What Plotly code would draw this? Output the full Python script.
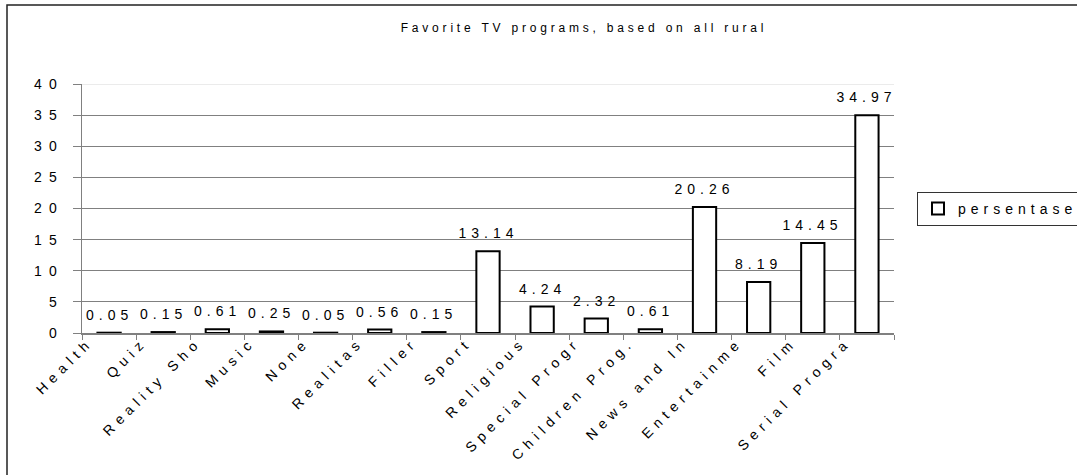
import plotly.graph_objects as go

categories = ["Health", "Quiz", "Reality Sho", "Music", "None", "Realitas", "Filler",
              "Sport", "Religious", "Special Progr", "Children Prog.", "News and In",
              "Entertainme", "Film", "Serial Progra"]
values = [0.05, 0.15, 0.61, 0.25, 0.05, 0.56, 0.15, 13.14, 4.24, 2.32, 0.61,
          20.26, 8.19, 14.45, 34.97]
y_ticks = [0, 5, 10, 15, 20, 25, 30, 35, 40]
series_name = "persentase"
title_text = "Favorite TV programs, based on all rural"

W, H = 1077, 475
L, R, T, B = 82, 894, 84, 333
pw, ph = R - L, B - T

font_family = "Liberation Sans, Arial, sans-serif"
fsize = 14

fig = go.Figure()
fig.add_trace(go.Bar(
    x=categories, y=values, name=series_name,
    marker=dict(color="white", line=dict(color="black", width=2)),
    showlegend=True,
))

annotations = [
    dict(x=c, y=v, xref="x", yref="y", text=f"{v:.2f}", showarrow=False,
         yanchor="bottom", xanchor="center", yshift=8,
         font=dict(family=font_family, size=fsize, color="black"))
    for c, v in zip(categories, values)
]

shapes = [
    dict(type="rect", xref="paper", yref="paper",
         x0=(7 - L) / pw, x1=(1200 - L) / pw,
         y0=1 - (600 - T) / ph, y1=1 + (T - 5) / ph,
         line=dict(color="#222222", width=1.5), fillcolor="rgba(0,0,0,0)", layer="below"),
    dict(type="line", xref="paper", yref="y", x0=0, x1=1, y0=40, y1=40,
         line=dict(color="#e4e4e4", width=1.5), layer="above"),
]

fig.update_layout(
    width=W, height=H,
    margin=dict(l=L, r=W - R, t=T, b=H - B, pad=0, autoexpand=False),
    paper_bgcolor="white", plot_bgcolor="white",
    font=dict(family=font_family, size=fsize, color="black"),
    title=dict(text=title_text, x=584 / W, xref="container", xanchor="center",
               y=1 - 28 / H, yref="container", yanchor="middle",
               font=dict(family=font_family, size=12, color="black")),
    bargap=0.57,
    showlegend=True,
    legend=dict(x=(917 - L) / pw, xanchor="left", y=1 - (209 - T) / ph, yanchor="middle",
                bordercolor="#333333", borderwidth=1, bgcolor="white",
                font=dict(family=font_family, size=fsize, color="black")),
    shapes=shapes,
    annotations=annotations,
)
fig.update_xaxes(
    type="category", tickangle=-45, tickson="boundaries",
    ticks="outside", ticklen=5, tickcolor="#808080",
    ticklabelshift=-20, ticklabelstandoff=-6,
    showline=True, linecolor="#808080", linewidth=1.5, showgrid=False,
    tickfont=dict(family=font_family, size=fsize, color="black"), automargin=False,
)
fig.update_yaxes(
    range=[0, 40], tickvals=y_ticks, ticks="outside", ticklen=8, tickcolor="#808080",
    showline=True, linecolor="#808080", linewidth=1.5, ticklabelstandoff=6,
    showgrid=True, gridcolor="#808080", gridwidth=1, zeroline=False,
    tickfont=dict(family=font_family, size=fsize, color="black"), automargin=False,
)

post = """
document.body.style.margin = '0';
var s = document.createElement('style');
s.textContent = '.xtick text{letter-spacing:5.5px}' +
  '.ytick text{letter-spacing:7px}' +
  '.annotation-text{letter-spacing:5px}' +
  '.legendtext{letter-spacing:5px}' +
  '.gtitle{letter-spacing:3.8px}';
document.head.appendChild(s);
var gd = document.getElementById('{plot_id}');
Plotly.relayout(gd, {'legend.font.size': 14.01});
"""
fig.write_html("out.html", post_script=post,
               config={"displayModeBar": False, "staticPlot": True})
